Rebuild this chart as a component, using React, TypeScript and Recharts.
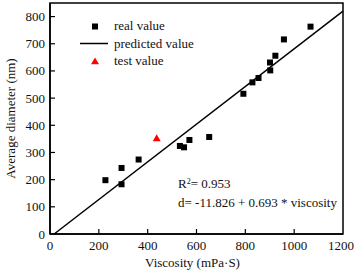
import React from 'react'
import {
  ScatterChart,
  Scatter,
  XAxis,
  YAxis,
  ReferenceArea,
} from 'recharts'

// measured points, viscosity (mPa·S) vs average diameter (nm)
const realViscosity = [227, 293, 293, 363, 532, 549, 571, 652, 792, 829, 854, 901, 902, 923, 958, 1067]
const realDiameter = [198, 243, 183, 274, 324, 319, 346, 357, 516, 558, 574, 631, 602, 656, 716, 763]
const testViscosity = [437]
const testDiameter = [352]

// fitted model d = a + b * viscosity
const fitIntercept = -11.826
const fitSlope = 0.693
const fitViscosity = [17.07, 1200]

const xTicks = [0, 200, 400, 600, 800, 1000, 1200]
const yTicks = [0, 100, 200, 300, 400, 500, 600, 700, 800]

const FONT = '"Liberation Serif", "Times New Roman", serif'

const realData = realViscosity.map((x, i) => ({ x, y: realDiameter[i] }))
const testData = testViscosity.map((x, i) => ({ x, y: testDiameter[i] }))
const fitData = fitViscosity.map((x) => ({ x, y: fitIntercept + fitSlope * x }))

const SquareDot = ({ cx, cy }: any) => (
  <rect x={cx - 3} y={cy - 3} width={6} height={6} fill="#000" />
)

const TriangleDot = ({ cx, cy }: any) => (
  <path d={`M${cx},${cy - 4} L${cx + 4},${cy + 2.8} L${cx - 4},${cy + 2.8} Z`} fill="#ff0000" />
)

const NoDot = () => <g />

const YTick = ({ x, y, payload }: any) => (
  <g>
    {payload.value !== 0 && <line x1={x} x2={x + 5} y1={y} y2={y} stroke="#000" strokeWidth={1.2} />}
    <text x={x - 5} y={y} dy={4.5} textAnchor="end" fontSize={13} fontFamily={FONT} fill="#111">
      {payload.value}
    </text>
  </g>
)

const XTick = ({ x, y, payload }: any) => (
  <g>
    {payload.value !== 0 && payload.value !== 1200 && (
      <line x1={x} x2={x} y1={y} y2={y - 5} stroke="#000" strokeWidth={1.2} />
    )}
    <text x={x} y={y} dy={16} textAnchor="middle" fontSize={13} fontFamily={FONT} fill="#111">
      {payload.value}
    </text>
  </g>
)

const YLabel = ({ viewBox }: any) => {
  const cx = 10
  const cy = viewBox.y + viewBox.height / 2
  return (
    <text
      x={cx}
      y={cy}
      transform={`rotate(-90 ${cx} ${cy})`}
      textAnchor="middle"
      dominantBaseline="central"
      fontSize={13}
      fontFamily={FONT}
      fill="#111"
    >
      Average diameter (nm)
    </text>
  )
}

const XLabel = ({ viewBox }: any) => (
  <text
    x={viewBox.x + viewBox.width / 2 - 4}
    y={viewBox.y + viewBox.height - 5}
    textAnchor="middle"
    fontSize={13}
    fontFamily={FONT}
    fill="#111"
  >
    Viscosity (mPa·S)
  </text>
)

const legendItems = [
  { label: 'real value', icon: <rect x={12} y={5.5} width={6} height={6} fill="#000" /> },
  { label: 'predicted value', icon: <line x1={0} x2={28} y1={8.5} y2={8.5} stroke="#000" strokeWidth={1.5} /> },
  { label: 'test value', icon: <path d="M15,4.5 L19,11.3 L11,11.3 Z" fill="#ff0000" /> },
]

export default function App() {
  return (
    <div style={{ position: 'absolute', left: 0, top: 0, width: 357, height: 272, background: '#fff' }}>
      <ScatterChart width={357} height={272} margin={{ top: 3, right: 14, left: 0, bottom: 0 }}>
        <XAxis
          type="number"
          dataKey="x"
          domain={[0, 1200]}
          ticks={xTicks}
          height={38}
          axisLine={{ stroke: '#000', strokeWidth: 1.5 }}
          tickLine={false}
          tickSize={0}
          tickMargin={0}
          tick={<XTick />}
          label={<XLabel />}
        />
        <YAxis
          type="number"
          dataKey="y"
          domain={[0, 850]}
          ticks={yTicks}
          width={50}
          axisLine={{ stroke: '#000', strokeWidth: 1.5 }}
          tickLine={false}
          tickSize={0}
          tickMargin={0}
          tick={<YTick />}
          label={<YLabel />}
        />
        <ReferenceArea x1={0} x2={1200} y1={0} y2={850} fill="none" stroke="#000" strokeWidth={1.5} />
        <Scatter
          name="predicted value"
          data={fitData}
          line={{ stroke: '#000', strokeWidth: 1.5 }}
          shape={<NoDot />}
          isAnimationActive={false}
        />
        <Scatter name="real value" data={realData} shape={<SquareDot />} isAnimationActive={false} />
        <Scatter name="test value" data={testData} shape={<TriangleDot />} isAnimationActive={false} />
      </ScatterChart>
      <div
        style={{
          position: 'absolute',
          left: 80,
          top: 17.5,
          fontFamily: FONT,
          fontSize: 13,
          color: '#111',
        }}
      >
        {legendItems.map((item) => (
          <div key={item.label} style={{ display: 'flex', alignItems: 'center', height: 17.5 }}>
            <svg width={34} height={17} style={{ display: 'block' }}>
              {item.icon}
            </svg>
            <span style={{ whiteSpace: 'nowrap' }}>{item.label}</span>
          </div>
        ))}
      </div>
      <div
        style={{
          position: 'absolute',
          left: 178,
          top: 174,
          fontFamily: FONT,
          fontSize: 13,
          color: '#111',
          lineHeight: '19px',
          whiteSpace: 'nowrap',
        }}
      >
        <div>
          R<sup style={{ fontSize: 8, verticalAlign: 'top', position: 'relative', top: -2 }}>2</sup>= 0.953
        </div>
        <div>d= -11.826 + 0.693 * viscosity</div>
      </div>
    </div>
  )
}
